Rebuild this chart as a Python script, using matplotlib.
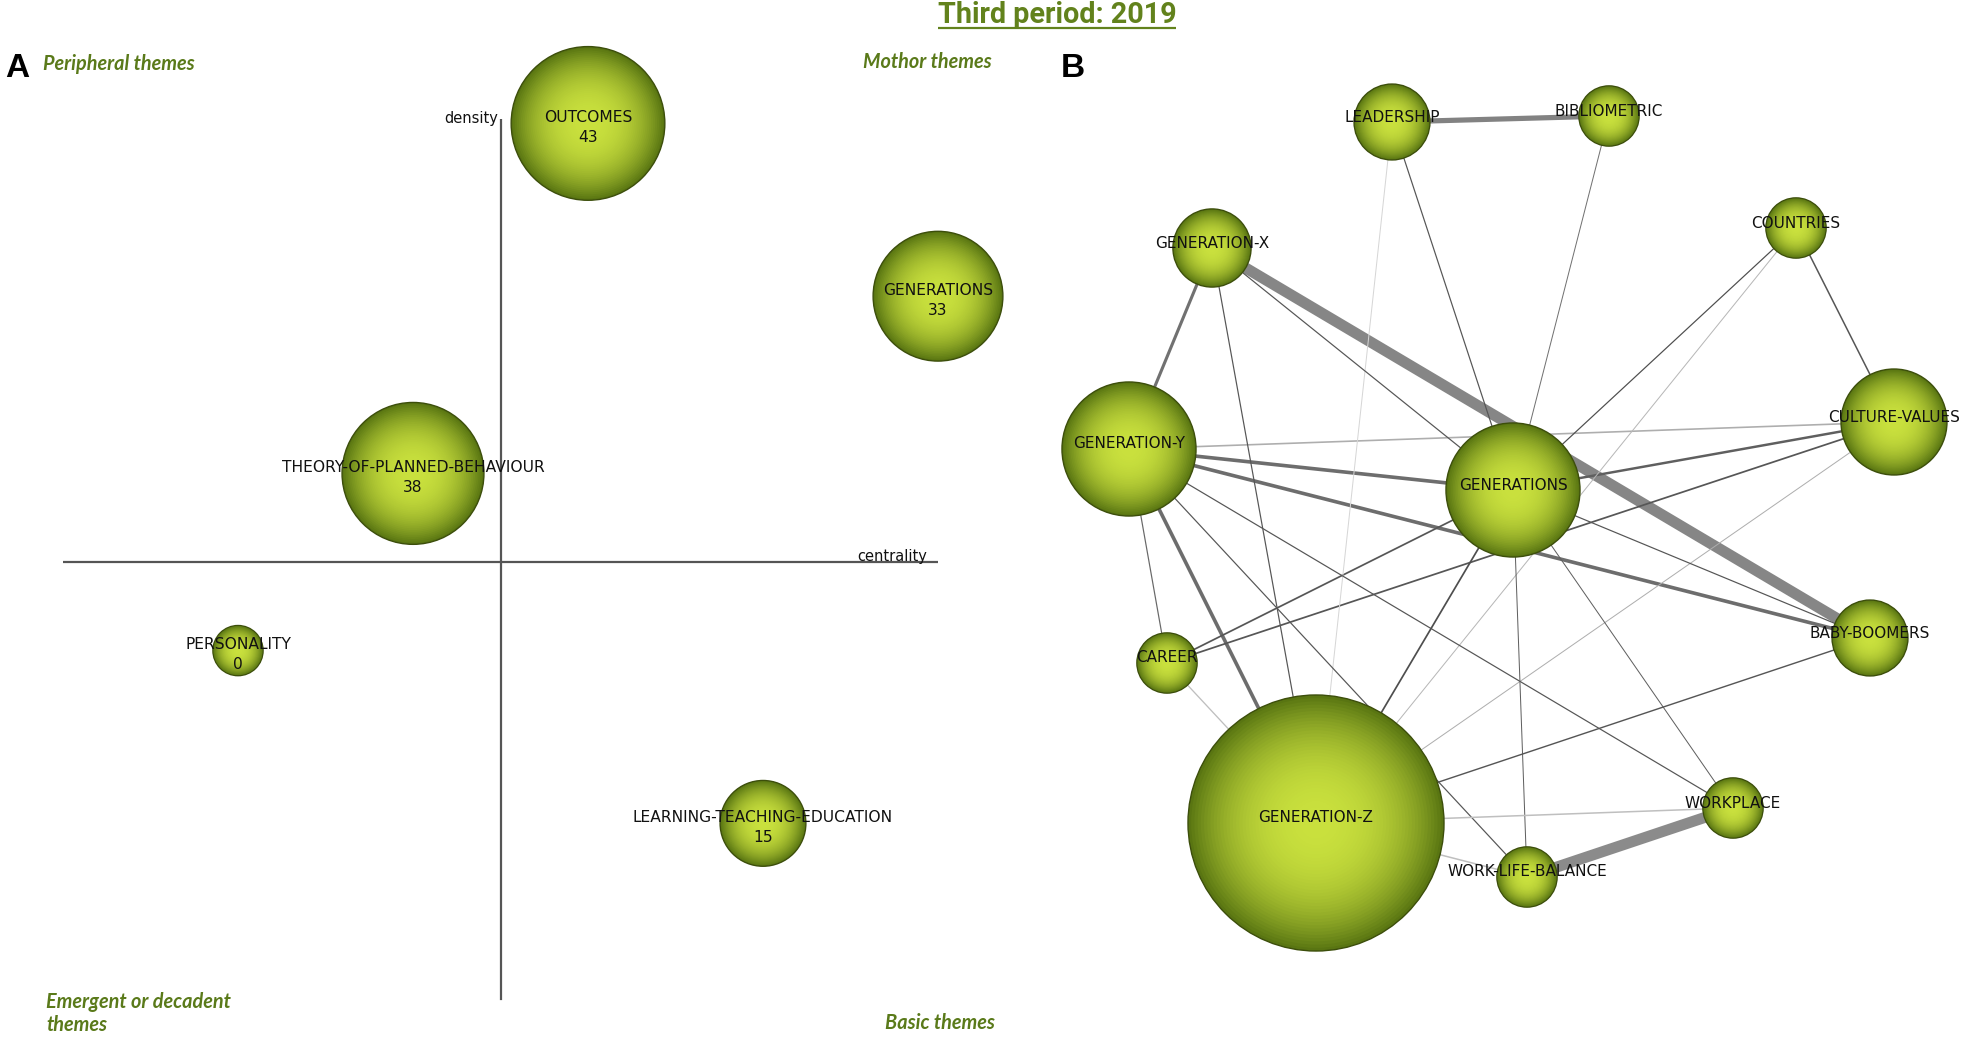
import numpy as np
import matplotlib
matplotlib.use("Agg")
import matplotlib.pyplot as plt
from matplotlib import font_manager as fm
from matplotlib.collections import LineCollection

# ---------------- Panel A: strategic diagram ----------------
themes = ["OUTCOMES", "GENERATIONS", "THEORY-OF-PLANNED-BEHAVIOUR",
          "PERSONALITY", "LEARNING-TEACHING-EDUCATION"]
theme_centrality = [0.2, 1.0, -0.2, -0.6, 0.6]
theme_density = [0.99, 0.6, 0.2, -0.2, -0.59]
theme_docs = [12.2, 8.7, 10.4, 1.3, 3.8]
theme_value = [43, 33, 38, 0, 15]

# ---------------- Panel B: thematic network ----------------
nodes = ["LEADERSHIP", "BIBLIOMETRIC", "GENERATION-X", "COUNTRIES",
         "GENERATION-Y", "GENERATIONS", "CULTURE-VALUES", "BABY-BOOMERS",
         "CAREER", "GENERATION-Z", "WORKPLACE", "WORK-LIFE-BALANCE"]
node_x = [1392, 1609, 1212, 1796, 1129, 1513, 1894, 1870, 1167, 1316, 1733, 1527]
node_y = [122, 116, 248, 228, 449, 490, 422, 638, 663, 823, 808, 877]
node_weight = [10.0, 6.3, 10.6, 6.3, 31.2, 31.2, 19.5, 10.0, 6.3, 113.8, 6.3, 6.3]

edge_source = ["LEADERSHIP", "GENERATION-X", "WORK-LIFE-BALANCE", "GENERATION-X",
               "GENERATION-Y", "GENERATION-Y", "GENERATION-Y", "GENERATION-Y",
               "GENERATIONS", "CAREER", "CAREER", "COUNTRIES", "COUNTRIES",
               "COUNTRIES", "CULTURE-VALUES", "LEADERSHIP", "LEADERSHIP",
               "BIBLIOMETRIC", "GENERATION-X", "GENERATION-X", "GENERATION-Y",
               "GENERATION-Y", "GENERATION-Y", "GENERATIONS", "GENERATIONS",
               "GENERATIONS", "GENERATIONS", "BABY-BOOMERS", "GENERATION-Z",
               "GENERATION-Z", "CAREER"]
edge_target = ["BIBLIOMETRIC", "BABY-BOOMERS", "WORKPLACE", "GENERATION-Y",
               "GENERATIONS", "BABY-BOOMERS", "GENERATION-Z", "CULTURE-VALUES",
               "CULTURE-VALUES", "CULTURE-VALUES", "GENERATIONS", "CULTURE-VALUES",
               "GENERATIONS", "GENERATION-Z", "GENERATION-Z", "GENERATIONS",
               "GENERATION-Z", "GENERATIONS", "GENERATIONS", "GENERATION-Z",
               "CAREER", "WORKPLACE", "WORK-LIFE-BALANCE", "BABY-BOOMERS",
               "GENERATION-Z", "WORK-LIFE-BALANCE", "WORKPLACE", "GENERATION-Z",
               "WORKPLACE", "WORK-LIFE-BALANCE", "GENERATION-Z"]
edge_weight = [0.40, 0.95, 0.95, 0.20, 0.25, 0.25, 0.25, 0.06,
               0.14, 0.07, 0.07, 0.05, 0.02, 0.0, 0.0, 0.02, 0.0,
               0.0, 0.02, 0.02, 0.02, 0.02, 0.02, 0.02, 0.07,
               0.0, 0.0, 0.04, 0.05, 0.05, 0.03]
edge_shade = [0.6, 0.58, 0.55, 0.7, 0.72, 0.72, 0.72, 0.35,
              0.8, 0.85, 0.85, 0.85, 0.9, 0.3, 0.35, 0.85, 0.12,
              0.7, 0.85, 0.85, 0.75, 0.85, 0.85, 0.85, 0.9,
              0.8, 0.8, 0.85, 0.25, 0.25, 0.25]

# ---------------- helpers ----------------
def has_font(name):
    try:
        fm.findfont(fm.FontProperties(family=name), fallback_to_default=False)
        return True
    except Exception:
        return False

W, H = 1971, 1037
DPI = 100
PX2PT = 72.0 / DPI

LABEL_FONT = "DejaVu Sans"
GREEN_TXT = "#5a7a1a"
QUAD_FONT = "Lato" if has_font("Lato") else "DejaVu Sans"
if has_font("Liberation Sans Narrow"):
    TITLE_FONT = "Liberation Sans Narrow"
elif has_font("Roboto"):
    TITLE_FONT = "Roboto"
else:
    TITLE_FONT = "DejaVu Sans"

C_EDGE = np.array([0.35, 0.46, 0.07])
C_CENTER = np.array([0.79, 0.88, 0.24])


def draw_spheres(ax, xs, ys, radii, zorder=3, levels=40):
    radii = np.asarray(radii, float)
    s_full = (2 * radii * PX2PT) ** 2
    ax.scatter(xs, ys, s=s_full, c=[C_EDGE], edgecolors="#3c4e0b",
               linewidths=1.0, zorder=zorder, clip_on=False)
    for i in range(1, levels):
        f = 1 - i / levels
        t = f ** 2.4
        col = C_CENTER + (C_EDGE - C_CENTER) * t
        ax.scatter(xs, ys, s=(2 * radii * f * PX2PT) ** 2, c=[col],
                   linewidths=0, zorder=zorder, clip_on=False)


fig = plt.figure(figsize=(W / DPI, H / DPI), dpi=DPI)
fig.patch.set_facecolor("white")

# full-figure axes (network + annotations)
ax = fig.add_axes([0, 0, 1, 1])
ax.set_xlim(0, W)
ax.set_ylim(H, 0)
ax.axis("off")

# panel A axes
axA = fig.add_axes([63 / W, (H - 1005) / H, 875 / W, 886 / H])
axA.set_xlim(-1, 1)
axA.set_ylim(-1, 1)
axA.axis("off")
axA.axhline(0, color="#555555", lw=1.6, zorder=1)
axA.axvline(0, ymin=0.007, ymax=1.0, color="#555555", lw=1.6, zorder=1)

radA = [22 * np.sqrt(v) for v in theme_docs]
draw_spheres(axA, theme_centrality, theme_density, radA, zorder=3)
for name, cx, dy, val in zip(themes, theme_centrality, theme_density, theme_value):
    axA.annotate(name, (cx, dy), xytext=(0, 6 * PX2PT), textcoords="offset points",
                 ha="center", va="center", fontsize=11.2, family=LABEL_FONT,
                 color="#111111", zorder=6, annotation_clip=False)
    axA.annotate(str(val), (cx, dy), xytext=(0, -14 * PX2PT), textcoords="offset points",
                 ha="center", va="center", fontsize=11.2, family=LABEL_FONT,
                 color="#111111", zorder=6, annotation_clip=False)
axA.annotate("density", (0, 1.0), xytext=(-2, 0), textcoords="offset points",
             ha="right", va="center", fontsize=10.5, family=LABEL_FONT,
             color="#111111", annotation_clip=False)
axA.annotate("centrality", (0.974, 0), xytext=(0, 6 * PX2PT), textcoords="offset points",
             ha="right", va="center", fontsize=10.5, family=LABEL_FONT,
             color="#111111", annotation_clip=False)

# panel B network
idx = {n: i for i, n in enumerate(nodes)}
segs, lws, cols = [], [], []
for s, t, w, sh in zip(edge_source, edge_target, edge_weight, edge_shade):
    a, b = idx[s], idx[t]
    segs.append([(node_x[a], node_y[a]), (node_x[b], node_y[b])])
    lws.append((1.0 + 10.5 * w) * PX2PT)
    g = (235 - 175 * sh) / 255.0
    cols.append((g, g, g))
ax.add_collection(LineCollection(segs, linewidths=lws, colors=cols,
                                 capstyle="butt", zorder=1))
radB = [12 * np.sqrt(v) for v in node_weight]
draw_spheres(ax, node_x, node_y, radB, zorder=3)
for name, x, y in zip(nodes, node_x, node_y):
    ax.annotate(name, (x, y), xytext=(0, 5 * PX2PT), textcoords="offset points",
                ha="center", va="center", fontsize=11, family=LABEL_FONT,
                color="#111111", zorder=6)

# panel letters and quadrant labels
ax.text(5, 77, "A", fontsize=24, fontweight="bold", family="Liberation Sans",
        ha="left", va="baseline", color="black")
ax.text(1061, 77, "B", fontsize=24, fontweight="bold", family="Liberation Sans",
        ha="left", va="baseline", color="black")
qkw = dict(fontsize=14.3, fontweight="bold", fontstyle="italic", family=QUAD_FONT,
           color=GREEN_TXT, ha="left", va="baseline")
ax.text(43, 70, "Peripheral themes", **qkw)
ax.text(863, 68, "Mothor themes", **qkw)
ax.text(46, 1008, "Emergent or decadent", **qkw)
ax.text(46, 1031, "themes", **qkw)
ax.text(885, 1029, "Basic themes", **qkw)

# title with underline
title = ax.text(1057, 23, "Third period: 2019", fontsize=22, family=TITLE_FONT,
                fontweight="bold", color="#62821c", ha="center", va="baseline")
fig.canvas.draw()
r = fig.canvas.get_renderer()
bb = title.get_window_extent(r)
title.set_fontsize(title.get_fontsize() * 239.0 / bb.width)
fig.canvas.draw()
bb = title.get_window_extent(r)
inv = ax.transData.inverted()
(x0, _), (x1, _) = inv.transform([(bb.x0, bb.y0), (bb.x1, bb.y0)])
ax.plot([x0, x1], [27.5, 27.5], color="#62821c", lw=2.2 * PX2PT, solid_capstyle="butt")

fig.savefig("out.png", dpi=DPI, facecolor="white")
